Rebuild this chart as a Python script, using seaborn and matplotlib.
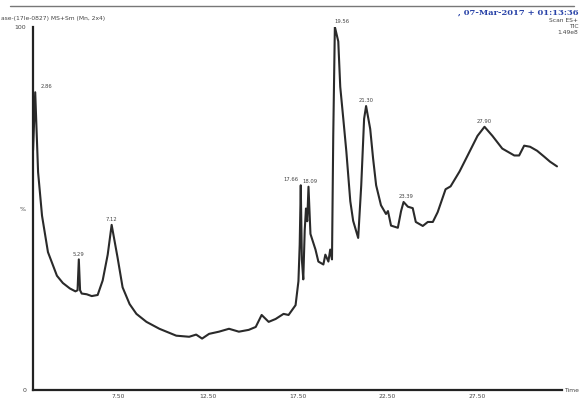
import numpy as np
import pandas as pd
import matplotlib.pyplot as plt
from matplotlib.lines import Line2D
from matplotlib.ticker import MultipleLocator, FixedLocator
import seaborn as sns

# chromatogram trace (time in min, relative intensity %)
times = [2.74, 2.86, 3.02, 3.24, 3.57, 4.07, 4.40, 4.79, 5.10, 5.22, 5.29, 5.36,
         5.45, 5.73, 6.01, 6.34, 6.62, 6.90, 7.12, 7.45, 7.73, 8.12, 8.50, 9.06,
         9.78, 10.72, 11.44, 11.83, 12.16, 12.55, 13.10, 13.66, 14.21, 14.76,
         15.15, 15.48, 15.87, 16.26, 16.70, 16.98, 17.37, 17.53, 17.60, 17.66,
         17.72, 17.80, 17.88, 17.95, 18.02, 18.09, 18.20, 18.48, 18.64, 18.92,
         19.03, 19.20, 19.30, 19.40, 19.47, 19.56, 19.75, 19.86, 20.03, 20.20,
         20.42, 20.58, 20.86, 21.03, 21.19, 21.30, 21.53, 21.69, 21.86, 22.13,
         22.41, 22.52, 22.69, 23.07, 23.25, 23.39, 23.63, 23.90, 24.07, 24.46,
         24.74, 25.02, 25.29, 25.73, 26.01, 26.51, 26.96, 27.51, 27.90, 28.34,
         28.89, 29.56, 29.83, 30.11, 30.44, 30.83, 31.22, 31.55, 31.94]
intensity = [66.0, 82.0, 60.0, 48.0, 38.0, 31.5, 29.5, 28.0, 27.2, 27.5, 36.0, 27.5,
             26.6, 26.4, 25.9, 26.2, 30.2, 37.3, 45.5, 36.5, 28.3, 23.7, 21.0, 18.8,
             16.9, 15.0, 14.7, 15.3, 14.2, 15.5, 16.1, 16.9, 16.1, 16.6,
             17.4, 20.7, 18.8, 19.6, 21.0, 20.7, 23.4, 30.0, 40.0, 56.4,
             36.0, 30.5, 44.0, 50.0, 46.5, 56.0, 43.0, 38.7, 35.4, 34.6,
             37.3, 35.4, 38.7, 36.0, 70.0, 100.0, 96.0, 83.5, 74.7, 65.7,
             52.0, 46.6, 41.9, 56.4, 74.7, 78.2, 71.9, 63.8, 56.4, 50.9,
             48.5, 49.3, 45.3, 44.7, 49.3, 51.8, 50.5, 50.1, 46.3, 45.2,
             46.3, 46.3, 49.0, 55.3, 56.1, 60.2, 64.6, 70.0, 72.5, 70.0,
             66.5, 64.6, 64.6, 67.3, 67.0, 65.9, 64.3, 62.9, 61.6]

peak_times = [2.86, 5.29, 7.12, 17.66, 18.09, 19.56, 21.30, 23.39, 27.90]
peak_labels = ["2.86", "5.29", "7.12", "17.66", "18.09", "19.56", "21.30", "23.39", "27.90"]
peak_heights = [82.0, 36.0, 45.5, 56.4, 56.0, 100.0, 78.2, 51.8, 72.5]
peak_dx = [8, 0, 0, -7, 1, 5, 0, 2, 0]

xtick_vals = [7.5, 12.5, 17.5, 22.5, 27.5]
xtick_labels = ["7.50", "12.50", "17.50", "22.50", "27.50"]
ytick_vals = [0, 50, 100]
ytick_labels = ["0", "%", "100"]

df = pd.DataFrame({"time": times, "intensity": intensity})

sns.set_style("white")
fig = plt.figure(figsize=(5.8, 4.01), dpi=100)
ax = fig.add_axes([0.057, 0.027, 0.912, 0.906])

sns.lineplot(data=df, x="time", y="intensity", ax=ax, color="#2a2a2a", linewidth=1.5)

ax.set_xlim(2.74, 32.22)
ax.set_ylim(0, 100)
sns.despine(ax=ax)
for s in ["left", "bottom"]:
    ax.spines[s].set_linewidth(1.6)
    ax.spines[s].set_color("#222222")

ax.xaxis.set_major_locator(FixedLocator(xtick_vals))
ax.set_xticklabels(xtick_labels, fontsize=4.3, color="#444444")
ax.xaxis.set_minor_locator(MultipleLocator(0.5))
ax.yaxis.set_major_locator(FixedLocator(ytick_vals))
ax.set_yticklabels(ytick_labels, fontsize=4.5, color="#444444")
ax.yaxis.set_minor_locator(MultipleLocator(10))
ax.tick_params(axis="both", which="both", direction="out", color="#222222", width=1.0)
ax.tick_params(axis="x", which="major", length=2.5, pad=0.3)
ax.tick_params(axis="x", which="minor", length=2)
ax.tick_params(axis="y", which="major", length=3, pad=2)
ax.tick_params(axis="y", which="minor", length=2)
ax.set_xlabel("")
ax.set_ylabel("")

for t, lab, h, dx in zip(peak_times, peak_labels, peak_heights, peak_dx):
    ax.annotate(lab, xy=(t, h), xytext=(dx, 2), textcoords="offset points",
                ha="center", va="bottom", fontsize=3.8, color="#444444")

fig.text(0.998, 0.027, "Time", fontsize=4.3, color="#444444", ha="right", va="center")

# header
fig.add_artist(Line2D([0.017, 0.99], [0.985, 0.985], color="#777777", linewidth=1.0))
fig.text(0.002, 0.953, "ase-(17le-0827) MS+Sm (Mn, 2x4)", fontsize=4.3,
         color="#444444", ha="left", va="center")
fig.text(0.997, 0.968, ", 07-Mar-2017 + 01:13:36", fontsize=6, color="#2a44a8",
         ha="right", va="center", family="DejaVu Serif", fontweight="bold")
fig.text(0.997, 0.949, "Scan ES+", fontsize=4.3, color="#444444", ha="right", va="center")
fig.text(0.997, 0.934, "TIC", fontsize=4.3, color="#444444", ha="right", va="center")
fig.text(0.997, 0.919, "1.49e8", fontsize=4.3, color="#444444", ha="right", va="center")

fig.savefig("out.png", dpi=100)
